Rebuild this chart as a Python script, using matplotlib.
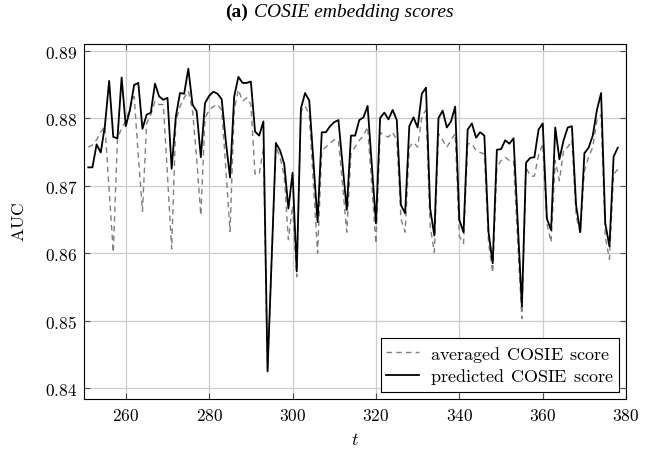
import numpy as np
import matplotlib
matplotlib.use('Agg')
from matplotlib import pyplot as plt

# time steps (days)
t = np.arange(251, 379)

predicted = [
    0.8727, 0.8727, 0.8761, 0.8749, 0.8789, 0.8855, 0.8772, 0.8770, 0.8860, 0.8788,
    0.8812, 0.8849, 0.8852, 0.8784, 0.8805, 0.8808, 0.8851, 0.8832, 0.8827, 0.8830,
    0.8725, 0.8802, 0.8837, 0.8836, 0.8873, 0.8820, 0.8810, 0.8742, 0.8822, 0.8833,
    0.8839, 0.8836, 0.8828, 0.8765, 0.8712, 0.8832, 0.8861, 0.8852, 0.8852, 0.8854,
    0.8780, 0.8774, 0.8795, 0.8425, 0.8595, 0.8763, 0.8752, 0.8732, 0.8666, 0.8719,
    0.8573, 0.8814, 0.8837, 0.8826, 0.8737, 0.8646, 0.8779, 0.8779, 0.8788, 0.8794,
    0.8797, 0.8730, 0.8664, 0.8774, 0.8774, 0.8797, 0.8801, 0.8818, 0.8730, 0.8644,
    0.8800, 0.8808, 0.8798, 0.8812, 0.8797, 0.8671, 0.8659, 0.8788, 0.8801, 0.8786,
    0.8836, 0.8845, 0.8666, 0.8626, 0.8800, 0.8811, 0.8786, 0.8795, 0.8817, 0.8649,
    0.8631, 0.8783, 0.8792, 0.8771, 0.8779, 0.8774, 0.8631, 0.8585, 0.8753, 0.8754,
    0.8767, 0.8762, 0.8770, 0.8646, 0.8521, 0.8734, 0.8741, 0.8742, 0.8783, 0.8792,
    0.8651, 0.8634, 0.8786, 0.8739, 0.8767, 0.8786, 0.8788, 0.8671, 0.8631, 0.8748,
    0.8756, 0.8774, 0.8812, 0.8837, 0.8644, 0.8610, 0.8743, 0.8756,
]

averaged = [
    0.8757, 0.8760, 0.8768, 0.8779, 0.8788, 0.8695, 0.8601, 0.8770, 0.8785, 0.8795,
    0.8815, 0.8832, 0.8745, 0.8662, 0.8792, 0.8805, 0.8825, 0.8820, 0.8820, 0.8715,
    0.8606, 0.8795, 0.8817, 0.8830, 0.8840, 0.8812, 0.8740, 0.8656, 0.8800, 0.8812,
    0.8817, 0.8820, 0.8812, 0.8725, 0.8632, 0.8812, 0.8842, 0.8825, 0.8830, 0.8820,
    0.8717, 0.8717, 0.8755, 0.8425, 0.8590, 0.8758, 0.8742, 0.8714, 0.8620, 0.8670,
    0.8565, 0.8810, 0.8818, 0.8805, 0.8703, 0.8600, 0.8752, 0.8757, 0.8763, 0.8768,
    0.8767, 0.8700, 0.8631, 0.8747, 0.8757, 0.8767, 0.8774, 0.8787, 0.8701, 0.8614,
    0.8779, 0.8774, 0.8772, 0.8779, 0.8767, 0.8651, 0.8631, 0.8757, 0.8764, 0.8757,
    0.8802, 0.8812, 0.8640, 0.8601, 0.8777, 0.8767, 0.8757, 0.8767, 0.8777, 0.8625,
    0.8614, 0.8762, 0.8762, 0.8752, 0.8749, 0.8747, 0.8616, 0.8571, 0.8727, 0.8737,
    0.8742, 0.8737, 0.8737, 0.8616, 0.8503, 0.8727, 0.8714, 0.8714, 0.8745, 0.8762,
    0.8644, 0.8616, 0.8737, 0.8707, 0.8752, 0.8757, 0.8767, 0.8656, 0.8629, 0.8722,
    0.8742, 0.8757, 0.8797, 0.8805, 0.8624, 0.8591, 0.8717, 0.8724,
]

x_ticks = [260, 280, 300, 320, 340, 360, 380]
y_ticks = [0.84, 0.85, 0.86, 0.87, 0.88, 0.89]

plt.rcParams['mathtext.fontset'] = 'cm'


def main():
    fig, ax = fig_setup()
    ax.plot(t, averaged, color='0.5', lw=1.0, ls=(0, (4, 3)),
            label=r'$\mathrm{averaged\;\,COSIE\;\,score}$')
    ax.plot(t, predicted, color='k', lw=1.3,
            label=r'$\mathrm{predicted\;\,COSIE\;\,score}$')
    leg = ax.legend(loc='lower right', fontsize=13, fancybox=False,
                    framealpha=1, edgecolor='k', borderaxespad=0.4,
                    handlelength=1.8, borderpad=0.3, labelspacing=0.15,
                    handletextpad=0.6)
    leg.get_frame().set_linewidth(0.8)

    fig.text(0.378, 0.972, '(a)', family='Liberation Serif', weight='bold',
             fontsize=14, ha='right', va='center')
    fig.text(0.386, 0.972, 'COSIE embedding scores', family='Liberation Serif',
             style='italic', fontsize=14, ha='left', va='center')

    fig.savefig('out.png', dpi=100)


def fig_setup():
    fig = plt.figure(figsize=(6.57, 4.52), dpi=100)
    ax = fig.add_axes([0.128, 0.115, 0.825, 0.786])
    ax.set_xlim(250, 380)
    ax.set_ylim(0.8384, 0.8910)
    ax.set_xticks(x_ticks)
    ax.set_yticks(y_ticks)
    ax.set_xticklabels([r'$%d$' % v for v in x_ticks], fontsize=12.5)
    ax.set_yticklabels([r'$%.2f$' % v for v in y_ticks], fontsize=12.5)
    ax.grid(True, color='0.8', lw=0.9)
    ax.set_axisbelow(True)
    ax.tick_params(direction='in', length=4, width=0.8, color='0.3',
                   top=True, right=True, pad=5)
    for s in ax.spines.values():
        s.set_linewidth(0.8)
    ax.set_xlabel(r'$t$', fontsize=13)
    ax.set_ylabel(r'$\mathrm{AUC}$', fontsize=12.5, labelpad=12)
    return fig, ax


main()
